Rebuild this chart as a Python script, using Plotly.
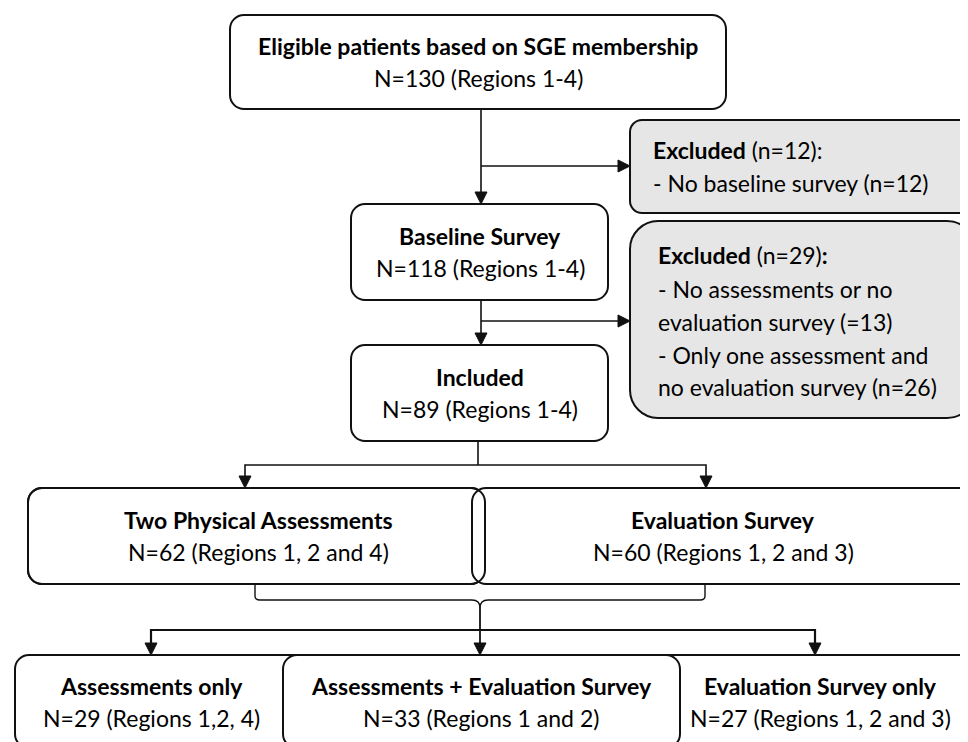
import plotly.graph_objects as go

# ---------------- data ----------------
box_titles = ["Eligible patients based on SGE membership", "Baseline Survey", "Included",
              "Two Physical Assessments", "Evaluation Survey",
              "Assessments only", "Assessments + Evaluation Survey", "Evaluation Survey only"]
box_counts = [130, 118, 89, 62, 60, 29, 33, 27]
box_regions = ["Regions 1-4", "Regions 1-4", "Regions 1-4",
               "Regions 1, 2 and 4", "Regions 1, 2 and 3",
               "Regions 1,2, 4", "Regions 1 and 2", "Regions 1, 2 and 3"]
excluded_totals = [12, 29]
excluded_lines = [["- No baseline survey (n=12)"],
                  ["- No assessments or no", "evaluation survey (=13)",
                   "- Only one assessment and", "no evaluation survey (n=26)"]]

# ---------------- layout geometry (pixels) ----------------
W, H = 968, 742
# x0, y0, x1, y1, radius, fill
box_geom = [
    (222, 7, 718, 101, 14),
    (343, 196, 600, 292, 14),
    (343, 337, 600, 433, 14),
    (20, 480, 477, 576, 14),
    (464, 480, 965, 576, 14),
    (7, 647, 320, 740, 14),
    (275, 647, 672, 740, 14),
    (630, 647, 966, 740, 14),
]
text_cx = [470, 472, 472, 250, 715, 143, 473, 812]
excl_geom = [(622, 112, 964, 205, 12), (622, 213, 967, 410, 28)]
excl_text_x = [643, 648]
excl_line_y = [[142, 175], [247, 281, 314, 347, 379]]

FONT = "Lato"
FS = 23
LINE = "#111111"
GRAY = "#e6e6e6"

fig = go.Figure()
shapes = []
annotations = []


def rrect(x0, y0, x1, y1, r):
    k = 0.45
    return (f"M {x0+r},{y0} L {x1-r},{y0} C {x1-r*k},{y0} {x1},{y0+r*k} {x1},{y0+r} "
            f"L {x1},{y1-r} C {x1},{y1-r*k} {x1-r*k},{y1} {x1-r},{y1} "
            f"L {x0+r},{y1} C {x0+r*k},{y1} {x0},{y1-r*k} {x0},{y1-r} "
            f"L {x0},{y0+r} C {x0},{y0+r*k} {x0+r*k},{y0} {x0+r},{y0} Z")


def box(g, fill="white", width=2):
    x0, y0, x1, y1, r = g
    shapes.append(dict(type="path", path=rrect(x0, y0, x1, y1, r), xref="x", yref="y",
                       fillcolor=fill, line=dict(color=LINE, width=width), layer="above"))


def seg(pts, width=1.6):
    p = "M " + " L ".join(f"{x},{y}" for x, y in pts)
    shapes.append(dict(type="path", path=p, xref="x", yref="y",
                       line=dict(color=LINE, width=width), layer="above"))


def arrow_down(x, ytip, s=6, l=12):
    p = f"M {x},{ytip} L {x-s},{ytip-l} L {x+s},{ytip-l} Z"
    shapes.append(dict(type="path", path=p, xref="x", yref="y", fillcolor=LINE,
                       line=dict(color=LINE, width=1), layer="above"))


def arrow_right(xtip, y, s=6, l=12):
    p = f"M {xtip},{y} L {xtip-l},{y-s} L {xtip-l},{y+s} Z"
    shapes.append(dict(type="path", path=p, xref="x", yref="y", fillcolor=LINE,
                       line=dict(color=LINE, width=1), layer="above"))


def text(x, y, s, anchor="center"):
    annotations.append(dict(x=x, y=y, xref="x", yref="y", text=s, showarrow=False,
                            xanchor=anchor, yanchor="middle",
                            font=dict(family=FONT, size=FS, color="#000000")))


# ---------- connectors ----------
# box1 -> baseline, branch to excluded 1
seg([(473, 101), (473, 184)])
arrow_down(473, 196)
seg([(473, 158), (610, 158)])
arrow_right(622, 158)
# baseline -> included, branch to excluded 2
seg([(473, 292), (473, 325)])
arrow_down(473, 337)
seg([(473, 313), (610, 313)])
arrow_right(622, 313)
# included -> split
seg([(470, 433), (470, 457)])
seg([(237, 468), (237, 457), (698, 457), (698, 468)])
arrow_down(237, 480)
arrow_down(698, 480)
# bracket from the two boxes
shapes.append(dict(type="path", xref="x", yref="y", layer="above",
                   line=dict(color=LINE, width=1.4),
                   path="M 247,576 L 247,588 Q 247,592 252,592 L 464,592 Q 472,592 472,600"))
shapes.append(dict(type="path", xref="x", yref="y", layer="above",
                   line=dict(color=LINE, width=1.4),
                   path="M 697,576 L 697,588 Q 697,592 692,592 L 480,592 Q 472,592 472,600"))
seg([(472, 600), (472, 635)], width=1.8)
arrow_down(472, 647)
seg([(143, 635), (143, 622), (807, 622), (807, 635)], width=2.2)
arrow_down(143, 647)
arrow_down(807, 647)

# ---------- boxes ----------
for i in range(3):
    box(box_geom[i])
box(excl_geom[0], fill=GRAY)
box(excl_geom[1], fill=GRAY)
# overlapping pair: white fills, then transparent outlines so both borders show
box(box_geom[3], fill="white")
box(box_geom[4], fill="white")
box(box_geom[3], fill="rgba(0,0,0,0)")
# bottom row: outer boxes first, middle on top
box(box_geom[5])
box(box_geom[7])
box(box_geom[6])

# ---------- box text ----------
for i, (t, n, reg) in enumerate(zip(box_titles, box_counts, box_regions)):
    x0, y0, x1, y1, r = box_geom[i]
    cy = (y0 + y1) / 2
    text(text_cx[i], cy - 16, f"<b>{t}</b>")
    text(text_cx[i], cy + 16, f"N={n} ({reg})")

# ---------- excluded text ----------
for j, (tot, lines) in enumerate(zip(excluded_totals, excluded_lines)):
    head = f"<b>Excluded</b> (n={tot}):" if j == 0 else f"<b>Excluded</b> (n={tot})<b>:</b>"
    text(excl_text_x[j], excl_line_y[j][0], head, anchor="left")
    for k, ln in enumerate(lines):
        text(excl_text_x[j], excl_line_y[j][k + 1], ln, anchor="left")

fig.update_layout(
    width=W, height=H,
    margin=dict(l=0, r=0, t=0, b=0),
    paper_bgcolor="white", plot_bgcolor="white",
    xaxis=dict(range=[0, W], visible=False, fixedrange=True),
    yaxis=dict(range=[H, 0], visible=False, fixedrange=True),
    shapes=shapes, annotations=annotations, showlegend=False,
)
fig.write_html("out.html")
